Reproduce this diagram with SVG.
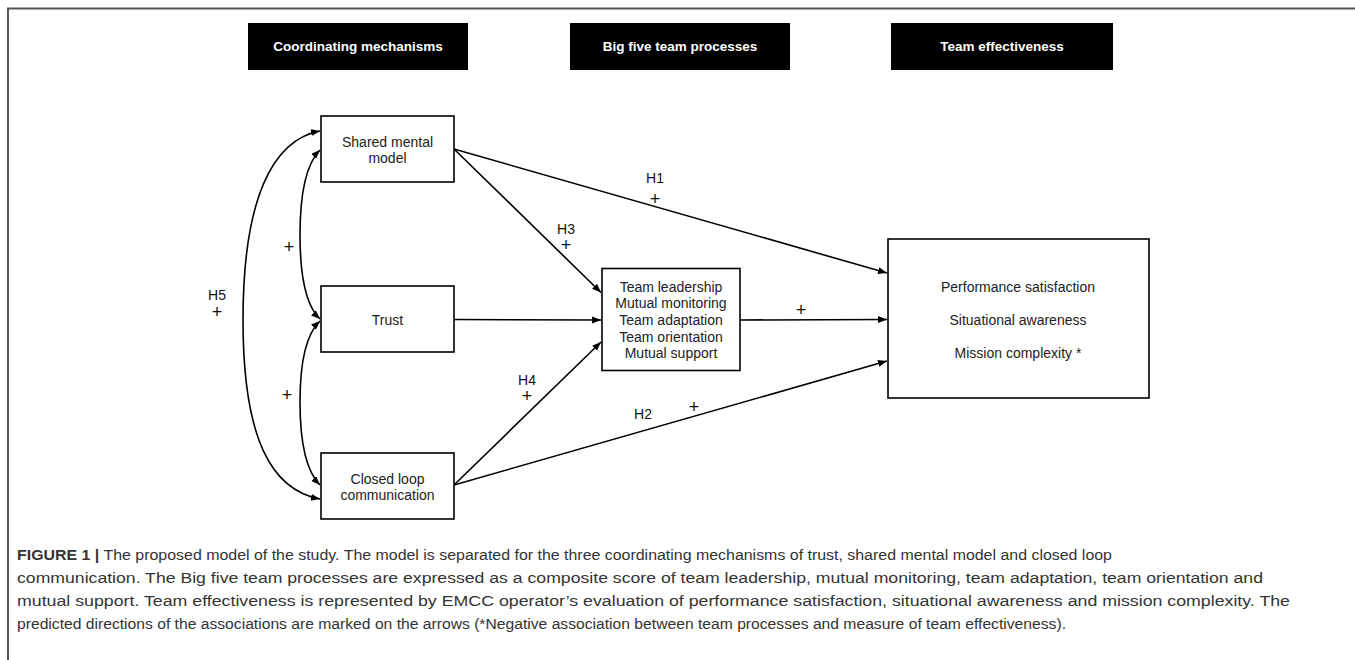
<svg xmlns="http://www.w3.org/2000/svg" width="1355" height="660" viewBox="0 0 1355 660">
<defs>
<style>
.box{fill:#fff;stroke:#000;stroke-width:1.6}
.hdr{fill:#000}
.ht{font-family:"Liberation Sans Narrow","Liberation Sans",Arial,sans-serif;font-weight:bold;font-size:13.5px;fill:#fff;text-anchor:middle}
.nt{font-family:"Liberation Sans",Arial,sans-serif;font-size:14px;fill:#222;text-anchor:middle}
.lb{font-family:"Liberation Sans",Arial,sans-serif;font-size:14px;fill:#111;text-anchor:middle}
.pl{font-family:"Liberation Sans",Arial,sans-serif;font-size:18px;fill:#111;text-anchor:middle}
.cn{fill:none;stroke:#000;stroke-width:1.6}
.cap{font-family:"Liberation Sans Narrow","Liberation Sans",Arial,sans-serif;font-size:15.5px;fill:#333}
</style>
<marker id="ah" markerUnits="userSpaceOnUse" markerWidth="10" markerHeight="8" refX="9" refY="3.5" orient="auto-start-reverse">
<path d="M0,0 L9,3.5 L0,7 z" fill="#000"/>
</marker>
</defs>
<rect width="1355" height="660" fill="#fff"/>
<path d="M8,660 V8.5 H1355" fill="none" stroke="#555" stroke-width="2"/>

<g id="hdr-coord"><rect class="hdr" x="248" y="23" width="220" height="47"/><text class="ht" x="358" y="51">Coordinating mechanisms</text></g>
<g id="hdr-big5"><rect class="hdr" x="570" y="23" width="220" height="47"/><text class="ht" x="680" y="51">Big five team processes</text></g>
<g id="hdr-eff"><rect class="hdr" x="891" y="23" width="222" height="47"/><text class="ht" x="1002" y="51">Team effectiveness</text></g>

<g id="connectors">
<path class="cn" marker-start="url(#ah)" marker-end="url(#ah)" d="M320,131 C272,140 243,200 243,320 C243,440 272,490 320,499"/>
<path class="cn" marker-start="url(#ah)" marker-end="url(#ah)" d="M320,150 C305,165 300,195 300,235 C300,275 305,305 320,319"/>
<path class="cn" marker-start="url(#ah)" marker-end="url(#ah)" d="M320,321 C305,335 300,365 300,402 C300,440 305,470 320,485"/>
<line class="cn" marker-end="url(#ah)" x1="454" y1="149" x2="887" y2="273"/>
<line class="cn" marker-end="url(#ah)" x1="454" y1="149" x2="601" y2="292.5"/>
<line class="cn" marker-end="url(#ah)" x1="454" y1="319.5" x2="601" y2="320"/>
<line class="cn" marker-end="url(#ah)" x1="454" y1="485" x2="601" y2="342"/>
<line class="cn" marker-end="url(#ah)" x1="454" y1="485" x2="887" y2="361"/>
<line class="cn" marker-end="url(#ah)" x1="740" y1="320" x2="887" y2="319.5"/>
</g>

<g id="n-shared"><rect class="box" x="321" y="116" width="133" height="66"/><text class="nt" x="387.5" y="146.5">Shared mental</text><text class="nt" x="387.5" y="162.5">model</text></g>
<g id="n-trust"><rect class="box" x="321" y="286" width="133" height="66"/><text class="nt" x="387.5" y="324.5">Trust</text></g>
<g id="n-closed"><rect class="box" x="321" y="453" width="133" height="66"/><text class="nt" x="387.5" y="484">Closed loop</text><text class="nt" x="387.5" y="500">communication</text></g>
<g id="n-proc"><rect class="box" x="602" y="268.5" width="138" height="102"/>
<text class="nt" x="671" y="291.5">Team leadership</text>
<text class="nt" x="671" y="308">Mutual monitoring</text>
<text class="nt" x="671" y="324.5">Team adaptation</text>
<text class="nt" x="671" y="341.5">Team orientation</text>
<text class="nt" x="671" y="358">Mutual support</text></g>
<g id="n-eff"><rect class="box" x="888" y="239" width="261" height="159"/>
<text class="nt" x="1018" y="291.5">Performance satisfaction</text>
<text class="nt" x="1018" y="324.5">Situational awareness</text>
<text class="nt" x="1018" y="357.5">Mission complexity *</text></g>

<g id="labels">
<text class="lb" x="655" y="183">H1</text><text class="pl" x="655" y="205">+</text>
<text class="lb" x="566" y="234">H3</text><text class="pl" x="566" y="251">+</text>
<text class="lb" x="527" y="385">H4</text><text class="pl" x="527" y="402">+</text>
<text class="lb" x="643" y="419">H2</text><text class="pl" x="694" y="413">+</text>
<text class="pl" x="801" y="316">+</text>
<text class="lb" x="217" y="300">H5</text><text class="pl" x="217" y="318">+</text>
<text class="pl" x="289" y="253">+</text>
<text class="pl" x="287" y="401">+</text>
</g>

<g id="caption">
<text class="cap" x="17" y="560" textLength="1095" lengthAdjust="spacingAndGlyphs"><tspan font-weight="bold">FIGURE 1 |</tspan> The proposed model of the study. The model is separated for the three coordinating mechanisms of trust, shared mental model and closed loop</text>
<text class="cap" x="17" y="583" textLength="1246" lengthAdjust="spacingAndGlyphs">communication. The Big five team processes are expressed as a composite score of team leadership, mutual monitoring, team adaptation, team orientation and</text>
<text class="cap" x="17" y="606" textLength="1273" lengthAdjust="spacingAndGlyphs">mutual support. Team effectiveness is represented by EMCC operator’s evaluation of performance satisfaction, situational awareness and mission complexity. The</text>
<text class="cap" x="17" y="629" textLength="1049" lengthAdjust="spacingAndGlyphs">predicted directions of the associations are marked on the arrows (*Negative association between team processes and measure of team effectiveness).</text>
</g>
</svg>
